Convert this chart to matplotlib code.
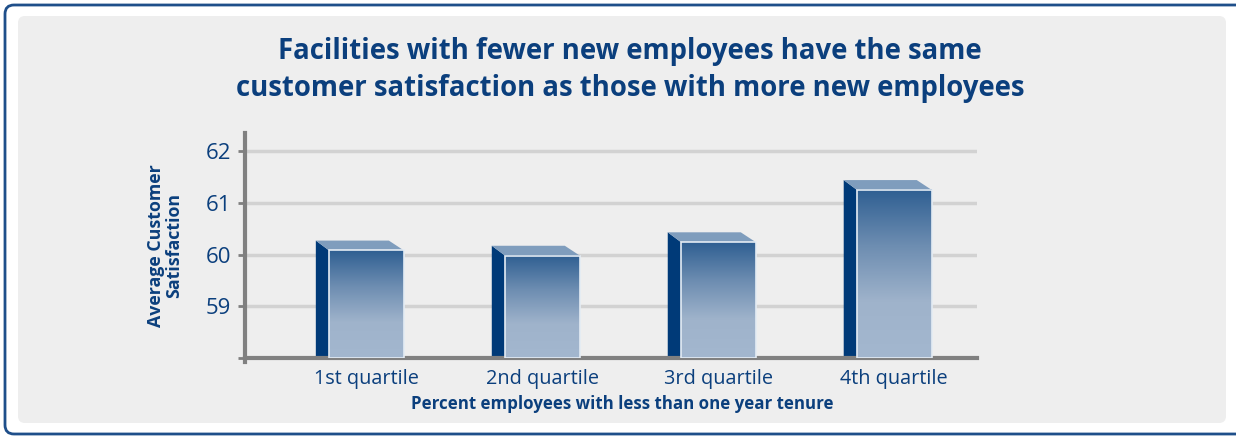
import matplotlib.pyplot as plt
import numpy as np
from matplotlib.patches import FancyBboxPatch, Polygon, Rectangle
from matplotlib.colors import LinearSegmentedColormap

categories = ['1st quartile', '2nd quartile', '3rd quartile', '4th quartile']
satisfaction = [60.08, 59.98, 60.24, 61.25]
y_ticks = [59, 60, 61, 62]

navy = '#0b3f7d'
W, H = 1236, 436

fig = plt.figure(figsize=(W / 100, H / 100), dpi=100)
fig.patch.set_facecolor('white')

# background axes in pixel coordinates: blue frame + grey panel
bg = fig.add_axes([0, 0, 1, 1], zorder=-1)
bg.set_xlim(0, W)
bg.set_ylim(H, 0)
bg.axis('off')
bg.add_patch(FancyBboxPatch((5, 5), 1250, 429, boxstyle='round,pad=0,rounding_size=9',
                            facecolor='white', edgecolor='#1f4f8a', linewidth=2.0))
bg.add_patch(FancyBboxPatch((18, 16), 1208, 407, boxstyle='round,pad=0,rounding_size=7',
                            facecolor='#eeeeee', edgecolor='none'))

ax = fig.add_axes([245 / W, 1 - 358 / H, (977 - 245) / W, (358 - 133) / H])
ax.set_facecolor('none')

x = np.arange(len(categories))

for t in y_ticks:
    ax.axhline(t, color='#d2d2d2', linewidth=2.5, zorder=0)

width = 0.425
dx, dy = -0.075, 0.19
grad = LinearSegmentedColormap.from_list('g', ['#a3b7cf', '#9fb3cb', '#6d8db1', '#2f5f92'])
img = np.linspace(0, 1, 256).reshape(-1, 1)

for xi, v in zip(x, satisfaction):
    left = xi - width / 2
    right = xi + width / 2
    # side face
    ax.add_patch(Polygon([(left, 58), (left + dx, 58 + dy * 0.1), (left + dx, v + dy), (left, v)],
                         closed=True, facecolor='#003a78', edgecolor='none', zorder=2))
    # top face
    ax.add_patch(Polygon([(left, v), (left + dx, v + dy), (right - 0.2 * width, v + dy),
                          (right, v)], closed=True, facecolor='#7f9dbd', edgecolor='none', zorder=2))
    # front face gradient
    ax.imshow(img, cmap=grad, origin='lower', extent=(left, right, 58, v),
              aspect='auto', zorder=3, interpolation='bilinear')
    ax.add_patch(Rectangle((left, 58), width, v - 58, facecolor='none',
                           edgecolor='#e4ecf4', linewidth=1.2, zorder=4))

ax.set_xlim(-0.69, 3.47)
ax.set_ylim(58, 62.35)

ax.set_yticks([58] + y_ticks)
ax.set_yticklabels([''] + [str(t) for t in y_ticks])
ax.set_xticks(x)
ax.set_xticklabels(categories)
ax.tick_params(axis='y', length=5, width=2, color='#808080', labelsize=16,
               labelcolor=navy, pad=5)
ax.tick_params(axis='x', length=0, labelsize=14.3, labelcolor=navy, pad=8)
for s in ['top', 'right']:
    ax.spines[s].set_visible(False)
for s in ['left', 'bottom']:
    ax.spines[s].set_color('#808080')
    ax.spines[s].set_linewidth(3)
ax.spines['left'].set_bounds(57.92, 62.35)

font = 'Open Sans'
for lab in ax.get_xticklabels() + ax.get_yticklabels():
    lab.set_family(font)

ax.set_xlabel('Percent employees with less than one year tenure', fontsize=12.2,
              fontweight='bold', color=navy, family=font)
ax.xaxis.set_label_coords((622 - 245) / (977 - 245), -0.165)
ax.set_ylabel('Average Customer\nSatisfaction', fontsize=12.8, fontweight='bold',
              color=navy, family=font, labelpad=16, linespacing=1.0)

fig.text(630 / W, 1 - 70 / H, 'Facilities with fewer new employees have the same\n'
         'customer satisfaction as those with more new employees',
         ha='center', va='center', fontsize=19.8, fontweight='bold', color=navy,
         family=font, linespacing=1.4)

fig.savefig('out.png', dpi=100, facecolor=fig.get_facecolor())
